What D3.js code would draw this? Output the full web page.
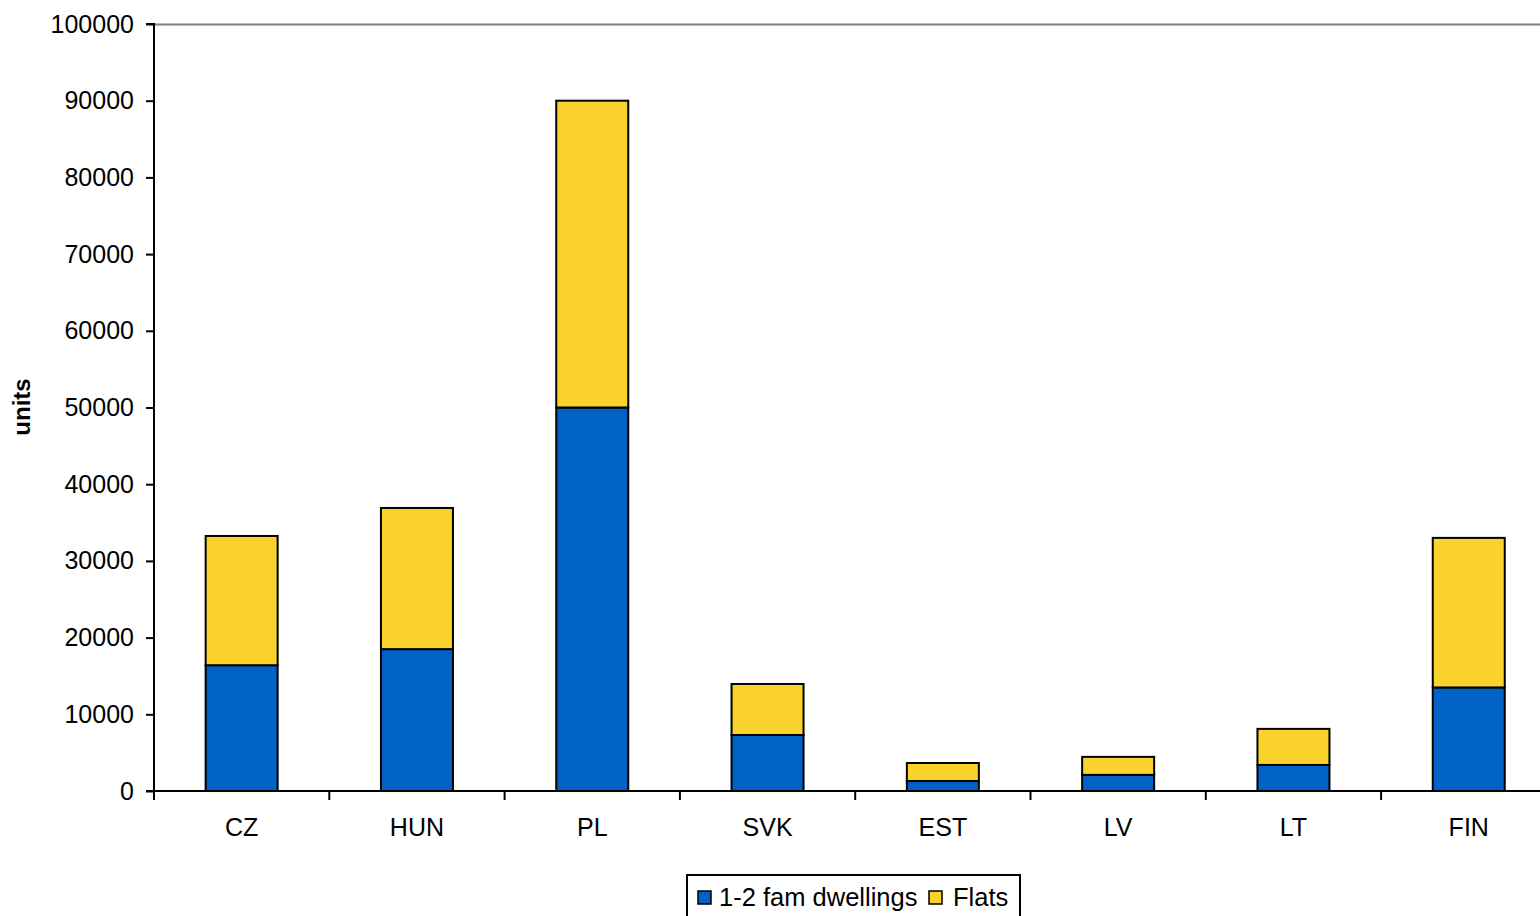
<!DOCTYPE html>
<html>
<head>
<meta charset="utf-8">
<script src="https://cdn.jsdelivr.net/npm/d3@7"></script>
<style>
  html, body { margin: 0; padding: 0; background: #fff; overflow: hidden; }
  svg { display: block; font-family: "Liberation Sans", Arial, sans-serif; }
</style>
</head>
<body>
<svg id="chart" width="1540" height="916"></svg>
<script>
// Housing completions by country, split into dwelling types
const categories = ["CZ", "HUN", "PL", "SVK", "EST", "LV", "LT", "FIN"];
const famDwellings = [16400, 18500, 50000, 7300, 1300, 2100, 3400, 13500];
const flats = [16850, 18400, 40000, 6650, 2350, 2350, 4700, 19500];
const seriesNames = ["1-2 fam dwellings", "Flats"];
const seriesColors = ["#0062c4", "#f9d32b"];
const yTicks = [0, 10000, 20000, 30000, 40000, 50000, 60000, 70000, 80000, 90000, 100000];

const svg = d3.select("#chart");
const plotLeft = 154, plotTop = 24, plotBottom = 791, plotW = 1402.4;

const x = d3.scaleBand().domain(categories).range([plotLeft, plotLeft + plotW]).paddingInner(0).paddingOuter(0);
const y = d3.scaleLinear().domain([0, 100000]).range([plotBottom, plotTop]);

const rows = categories.map((c, i) => ({ cat: c, fam: famDwellings[i], flats: flats[i] }));
const stacked = d3.stack().keys(["fam", "flats"])(rows);

// plot frame top line
svg.append("line")
  .attr("x1", plotLeft).attr("x2", plotLeft + plotW)
  .attr("y1", plotTop + 0.5).attr("y2", plotTop + 0.5)
  .attr("stroke", "#808080").attr("stroke-width", 2);

// bars
const barW = 72;
svg.append("g").selectAll("g").data(stacked).join("g")
  .attr("fill", (d, i) => seriesColors[i])
  .selectAll("rect").data(d => d).join("rect")
  .attr("x", d => x(d.data.cat) + x.bandwidth() / 2 - barW / 2)
  .attr("width", barW)
  .attr("y", d => y(d[1]))
  .attr("height", d => y(d[0]) - y(d[1]))
  .attr("stroke", "#000").attr("stroke-width", 2);

// y axis
const yAxis = svg.append("g")
  .attr("transform", `translate(${plotLeft},0)`)
  .call(d3.axisLeft(y).tickValues(yTicks).tickFormat(d3.format("d")).tickSize(8).tickPadding(12));
yAxis.select(".domain").attr("stroke", "#000").attr("stroke-width", 2).attr("d", `M-8,${plotTop}H0V${plotBottom}`);
yAxis.selectAll(".tick line").attr("stroke", "#000").attr("stroke-width", 2);
yAxis.selectAll(".tick text").attr("font-size", 25).attr("fill", "#000");

// x axis
const xAxis = svg.append("g")
  .attr("transform", `translate(0,${plotBottom})`)
  .call(d3.axisBottom(x).tickSize(0).tickPadding(27));
xAxis.select(".domain").attr("stroke", "#000").attr("stroke-width", 2).attr("d", `M${plotLeft - 8},0H${plotLeft + plotW}`);
xAxis.selectAll(".tick text").attr("font-size", 25).attr("fill", "#000");
// category separators
svg.append("g").selectAll("line").data(d3.range(categories.length))
  .join("line")
  .attr("x1", i => plotLeft + i * x.step()).attr("x2", i => plotLeft + i * x.step())
  .attr("y1", plotBottom).attr("y2", plotBottom + 9)
  .attr("stroke", "#000").attr("stroke-width", 2);

// y axis title
svg.append("text")
  .attr("transform", `translate(30,407) rotate(-90)`)
  .attr("text-anchor", "middle")
  .attr("font-size", 24).attr("font-weight", "bold")
  .text("units");

// legend
const lg = svg.append("g");
lg.append("rect").attr("x", 687).attr("y", 875).attr("width", 333).attr("height", 50)
  .attr("fill", "#fff").attr("stroke", "#000").attr("stroke-width", 2);
const items = [{ x: 698, tx: 719 }, { x: 929, tx: 953 }];
items.forEach((it, i) => {
  lg.append("rect").attr("x", it.x).attr("y", 891).attr("width", 13).attr("height", 13)
    .attr("fill", seriesColors[i]).attr("stroke", "#000").attr("stroke-width", 1.5);
  lg.append("text").attr("x", it.tx).attr("y", 906).attr("font-size", 25.5).text(seriesNames[i]);
});
</script>
</body>
</html>
